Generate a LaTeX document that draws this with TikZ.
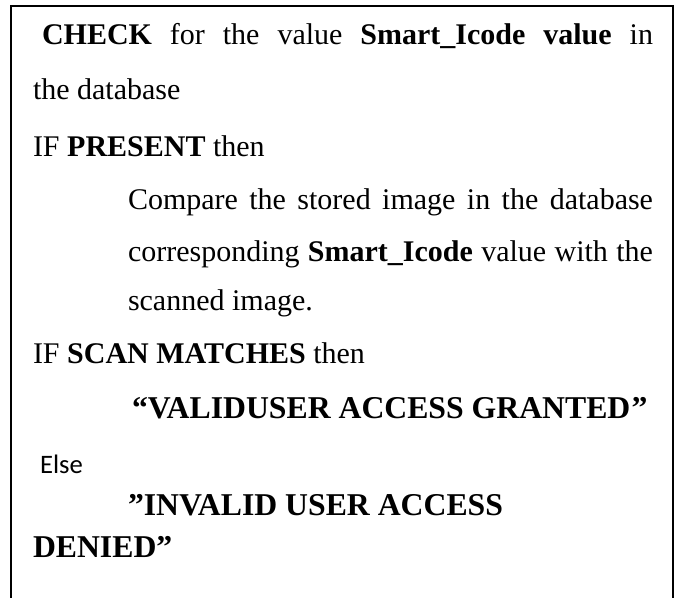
\documentclass[tikz,border=0pt]{standalone}
\usepackage{fontspec}
\setmainfont{Liberation Serif}
\newfontfamily\calibrifont{Carlito}
\begin{document}
\begin{tikzpicture}[x=0.75pt,y=-0.75pt,
  txt/.style={anchor=base west,inner sep=0pt,outer sep=0pt,font=\fontsize{22.5}{26}\selectfont},
  quotetxt/.style={anchor=base west,inner sep=0pt,outer sep=0pt,font=\fontsize{23.8}{28}\selectfont\bfseries},
  elsetxt/.style={anchor=base west,inner sep=0pt,outer sep=0pt,font=\fontsize{20}{24}\calibrifont},
  frameline/.style={line width=1.5pt,black}]
\useasboundingbox (0,0) rectangle (680,598);
\draw[frameline] (11,599) -- (11,6) -- (673,6) -- (673,599);
\node[txt] (l1) at (42,45) {\makebox[458.25pt][s]{\textbf{CHECK} for the value \textbf{Smart\_Icode value} in}};
\node[txt] (l2) at (33,100) {the database};
\node[txt] (l3) at (33,157) {IF \textbf{PRESENT} then};
\node[txt] (l4) at (128,210) {\makebox[393.75pt][s]{Compare the stored image in the database}};
\node[txt] (l5) at (128,262) {\makebox[393.75pt][s]{corresponding \textbf{Smart\_Icode} value with the}};
\node[txt] (l6) at (128,310) {scanned image.};
\node[txt] (l7) at (33,363) {IF \textbf{SCAN MATCHES} then};
\node[quotetxt] (l8) at (132,418) {“VALIDUSER ACCESS GRANTED\kern1pt”};
\node[elsetxt] (l9) at (40,473) {Else};
\node[quotetxt] (l10) at (128,515) {”INVALID USER ACCESS};
\node[quotetxt] (l11) at (33,557) {DENIED”};
\end{tikzpicture}
\end{document}
